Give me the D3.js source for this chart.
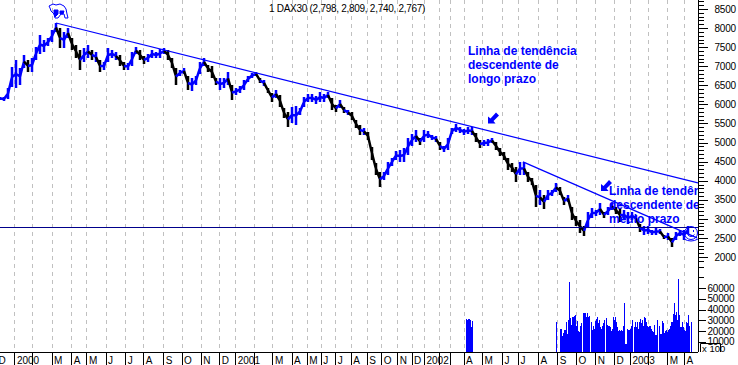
<!DOCTYPE html>
<html>
<head>
<meta charset="utf-8">
<style>
  html, body { margin: 0; padding: 0; background: #fff; }
  svg { display: block; }
  text { font-family: "Liberation Sans", Arial, sans-serif; }
</style>
<script src="https://cdn.jsdelivr.net/npm/d3@7"></script>
</head>
<body>
<div id="chart"></div>
<script>
// one bar about every 4 sessions
var priceHigh = [6195,6195,6430,6981,7164,6954,7295,7164,7216,7505,7819,7688,7740,7950,8133,8002,7898,8002,7740,7557,7426,7478,7557,7426,7374,7164,7112,7478,7426,7374,7295,7112,7085,7374,7505,7426,7269,7321,7426,7374,7452,7478,7426,7216,6954,6902,6954,6745,6692,6745,7112,7216,7033,7007,6692,6692,6692,6850,6509,6430,6483,6640,6745,6823,6850,6692,6640,6430,6299,6378,6247,5906,5802,5933,5959,5906,6195,6273,6273,6221,6326,6273,6326,6168,5985,6116,5933,5854,5802,5592,5461,5382,5278,4885,4465,4230,4230,4492,4596,4780,4806,4858,5120,5225,5330,5120,5330,5304,5199,5173,5016,4911,5120,5382,5487,5409,5356,5409,5409,5251,5068,5068,5094,5120,5016,4858,4754,4596,4465,4361,4492,4492,4230,4072,3889,3758,3627,3758,3758,3941,3837,3575,3627,3313,3077,2972,2815,3182,3286,3234,3417,3182,3313,3417,3313,3286,3234,3182,3182,3103,2867,2815,2815,2710,2762,2736,2579,2631,2500,2658,2710,2710,2815];
var priceLow = [6116,6090,6142,6457,6430,6509,6954,6850,6850,7164,7321,7374,7531,7636,7898,7478,7478,7740,7426,7216,6902,7112,7216,7164,7112,6850,6902,7112,7216,7164,7007,6902,6902,7007,7321,7164,7059,7112,7216,7216,7216,7321,7164,6954,6509,6745,6797,6378,6352,6509,6797,7007,6850,6692,6509,6378,6430,6509,6116,6247,6299,6378,6588,6692,6745,6561,6483,6299,6064,6168,5933,5644,5409,5513,5461,5723,5933,6064,6064,6011,6064,6064,6168,5854,5802,5906,5775,5723,5592,5382,5199,5199,5068,4544,4151,3837,4020,4151,4387,4544,4492,4492,4675,4911,5016,4937,5016,5120,5068,5016,4806,4754,4806,5225,5278,5251,5199,5225,5199,5016,4858,4911,4911,4990,4806,4649,4544,4282,4230,3968,4151,4151,3968,3889,3313,3365,3260,3496,3601,3706,3627,3365,3444,2972,2815,2631,2553,2762,3024,3077,3103,3024,3103,3234,3129,2920,2972,2867,2972,2920,2658,2579,2605,2579,2579,2605,2474,2448,2265,2448,2553,2448,2605];

// volume in thousands, only reported for part of the period
var volAprilStart = 116.5;
var volApril = [31,30,31,31,30,24,29];
var volLateStart = 139;
var volLate = [28,0,0,0,22,22,15,18,21,21,28,17,30,66,32,26,33,33,34,35,25,29,20,19,25,27,0,37,37,37,33,37,33,34,0,28,21,25,22,29,31,33,27,30,24,22,25,27,30,0,32,26,25,25,24,20,22,33,30,33,28,24,20,21,20,21,20,25,46,8,8,22,21,21,22,25,30,0,24,28,24,28,22,28,31,27,30,25,33,32,28,25,24,25,25,22,20,19,26,16,16,30,0,25,17,17,29,27,18,20,21,19,21,22,25,28,28,36,46,35,38,30,68,35,24,24,28,24,21,20,28,27,35,25,0,28];

var monthBars = [-1,3.6,8.1,12.9,17.8,21.6,26.4,31.3,35.8,40.8,45.4,50.2,54.8,58.8,63.6,68.1,72.9,76.7,80.2,83.8,87.7,91.7,95.3,99.3,102.9,106,109.8,112.5,115.9,120.5,125.5,129.5,134.5,139.3,144,148.8,153.5,157.5,162,166.8,171];
var monthLabels = ["D","2000","","M","A","M","J","J","A","S","O","N","D","2001","","M","A","M","J","J","A","S","O","N","D","2002","","","A","M","J","J","A","S","O","N","D","2003","","M","A"];

var priceLabels = [2000,2500,3000,3500,4000,4500,5000,5500,6000,6500,7000,7500,8000,8500];
var volumeLabels = [10000,20000,30000,40000,50000,60000];

var longTrendBars = [14,174.5], longTrendPrices = [8133,3941];
var midTrendBars = [130.75,174.25], midTrendPrices = [4492,2500];
var lastClose = 2767;

var title = "1 DAX30 (2,798, 2,809, 2,740, 2,767)";
var noteLong = ["Linha de tendência","descendente de","longo prazo"];
var noteMid = ["Linha de tendência","descendente de","médio prazo"];

var width = 738, height = 365, axisX = 698, bottom = 352;
var blue = "#0000ff";

var svg = d3.select("#chart").append("svg")
  .attr("width", width)
  .attr("height", height);

var x = d3.scaleLinear().domain([0, 172]).range([0, 688]);
var y = d3.scaleLinear().domain([2000, 8500]).range([257, 9]);
var yVol = d3.scaleLinear().domain([0, 60000]).range([352.5, 288]);

svg.append("defs").append("clipPath").attr("id", "plot")
  .append("rect").attr("x", 0).attr("y", 0).attr("width", axisX).attr("height", bottom);

// month grid
svg.append("g").selectAll("line")
  .data(monthBars.slice(1))
  .enter().append("line")
  .attr("x1", d => Math.round(x(d)) + 0.5)
  .attr("x2", d => Math.round(x(d)) + 0.5)
  .attr("y1", 0)
  .attr("y2", bottom)
  .attr("stroke", "#c0c0c0")
  .attr("stroke-dasharray", "4,4");

var plot = svg.append("g").attr("clip-path", "url(#plot)");

// volume
function volBars(values, start) {
  plot.append("g").selectAll("rect")
    .data(values)
    .enter().append("rect")
    .attr("x", (d, i) => Math.round(x(start + i / 4)))
    .attr("width", 1)
    .attr("y", d => yVol(d * 1000))
    .attr("height", d => yVol(0) - yVol(d * 1000))
    .attr("fill", blue)
    .attr("shape-rendering", "crispEdges");
}
volBars(volApril, volAprilStart);
volBars(volLate, volLateStart);

// price bars: a high-low stroke joined to the previous bar, black only on a real drop
function mid(i) { return (priceHigh[i] + priceLow[i]) / 2; }
function barColor(i) {
  if (i == 0) return blue;
  return mid(i) >= mid(i - 1) - 90 ? blue : "#000";
}
var priceG = plot.append("g").attr("stroke-linecap", "butt");
priceG.selectAll("path")
  .data(priceHigh)
  .enter().append("path")
  .attr("fill", "none")
  .attr("stroke", (d, i) => barColor(i))
  .attr("stroke-width", 2.5)
  .attr("d", (d, i) => {
    var p = d3.path();
    if (i > 0) {
      p.moveTo(x(i - 1), y(mid(i - 1)));
      p.lineTo(x(i), y(mid(i)));
    }
    p.moveTo(x(i), y(d));
    p.lineTo(x(i), y(priceLow[i]));
    return p.toString();
  });

// last close
plot.append("line")
  .attr("x1", 0).attr("x2", axisX)
  .attr("y1", Math.floor(y(lastClose)) + 0.5).attr("y2", Math.floor(y(lastClose)) + 0.5)
  .attr("stroke", "#00008b");

// trend lines
function trend(bars, prices) {
  plot.append("line")
    .attr("x1", x(bars[0])).attr("y1", y(prices[0]))
    .attr("x2", x(bars[1])).attr("y2", y(prices[1]))
    .attr("stroke", blue)
    .attr("stroke-width", 1.2);
}
trend(longTrendBars, longTrendPrices);
trend(midTrendBars, midTrendPrices);

// notes
function note(lines, left, baselines) {
  plot.append("g").selectAll("text")
    .data(lines)
    .enter().append("text")
    .attr("x", left)
    .attr("y", (d, i) => baselines[i])
    .attr("fill", blue)
    .attr("font-size", 12)
    .attr("font-weight", "bold")
    .text(d => d);
}
note(noteLong, 468, [55, 69, 83]);
note(noteMid, 609, [195, 209, 223]);

// arrows pointing down left
function arrow(px, py) {
  plot.append("path")
    .attr("transform", `translate(${px},${py})`)
    .attr("d", "M0,11 L0,4 L2.5,6 L8,0 L11,3 L5.5,8.5 L7.5,11 Z")
    .attr("fill", blue);
}
arrow(488, 112.5);
arrow(601, 180);

// bull at the top
var bull = svg.append("g")
  .attr("transform", "translate(48,3)")
  .attr("fill", "none")
  .attr("stroke", blue)
  .attr("stroke-width", 1);
bull.append("path").attr("d", "M1,3 L5,1 L8,2 L12,1 L16,3 L18,6 L19,11 L20,15 L17,15 L16,11 L13,11 L10,15 L7,15 L6,11 L3,8 L2,5 Z");
bull.append("path").attr("d", "M6,7 L10,7 L10,11 L7,14 L6,11 Z M12,8 L16,8 L15,11 L12,11 Z").attr("fill", blue);

// smiley at the end of the medium trend
var face = svg.append("g")
  .attr("transform", "translate(691,233)")
  .attr("fill", "none")
  .attr("stroke", blue)
  .attr("stroke-width", 1);
face.append("circle").attr("r", 6.5);
face.append("path").attr("d", "M-3.5,1.5 Q0,5.5 3.5,1.5");
face.append("path").attr("d", "M-2.5,-3 v2 M2.5,-3 v2");
face.append("path").attr("d", "M-7,6 Q0,10 7,6");

// axes
var priceMinor = d3.range(1900, 8800, 100);
var minorAxis = svg.append("g")
  .attr("transform", `translate(${axisX + 0.5},0)`)
  .attr("shape-rendering", "crispEdges")
  .call(d3.axisRight(y).tickValues(priceMinor).tickSize(5).tickFormat(""));
minorAxis.select(".domain").remove();

var priceAxis = svg.append("g")
  .attr("transform", `translate(${axisX + 0.5},0)`)
  .call(d3.axisRight(y).tickValues(priceLabels).tickSize(9).tickPadding(7).tickFormat(d3.format("d")));
priceAxis.select(".domain").remove();

var volAxis = svg.append("g")
  .attr("transform", `translate(${axisX + 0.5},0)`)
  .call(d3.axisRight(yVol).tickValues(volumeLabels).tickSize(7).tickPadding(2).tickFormat(d3.format("d")));
volAxis.select(".domain").remove();

var volExtra = svg.append("g")
  .attr("transform", `translate(${axisX + 0.5},0)`)
  .call(d3.axisRight(yVol).tickValues([70000, 80000]).tickSize(5).tickFormat(""));
volExtra.select(".domain").remove();

svg.selectAll("g.tick line").attr("shape-rendering", "crispEdges");
svg.selectAll("g.tick text")
  .attr("font-family", "Liberation Sans")
  .attr("font-size", 10)
  .attr("letter-spacing", -0.2)
  .attr("fill", "#000");

svg.append("line")
  .attr("x1", axisX + 0.5).attr("x2", axisX + 0.5)
  .attr("y1", 0).attr("y2", bottom)
  .attr("stroke", "#000");

var monthAxis = svg.append("g")
  .attr("transform", `translate(0,${bottom + 0.5})`)
  .call(d3.axisBottom(x)
    .tickValues(monthBars)
    .tickSize(13)
    .tickFormat((d, i) => monthLabels[i]));
monthAxis.select(".domain").attr("d", `M0,0H${axisX}`);
monthAxis.selectAll(".tick line").attr("shape-rendering", "crispEdges");
monthAxis.selectAll(".tick text")
  .attr("text-anchor", "start")
  .attr("x", 2)
  .attr("y", 4)
  .attr("font-family", "Liberation Sans")
  .attr("font-size", 10)
  .attr("fill", "#000");

// x100 box
svg.append("path")
  .attr("d", "M700.5,352V343.5H720.5V352")
  .attr("fill", "none")
  .attr("stroke", "#000");
svg.append("text")
  .attr("x", 702).attr("y", 351.5)
  .attr("font-size", 9.5)
  .attr("fill", "#000")
  .text("x 100");

svg.append("text")
  .attr("x", 269).attr("y", 12)
  .attr("font-size", 10)
  .attr("letter-spacing", -0.28)
  .attr("fill", "#000")
  .text(title);
</script>
</body>
</html>
